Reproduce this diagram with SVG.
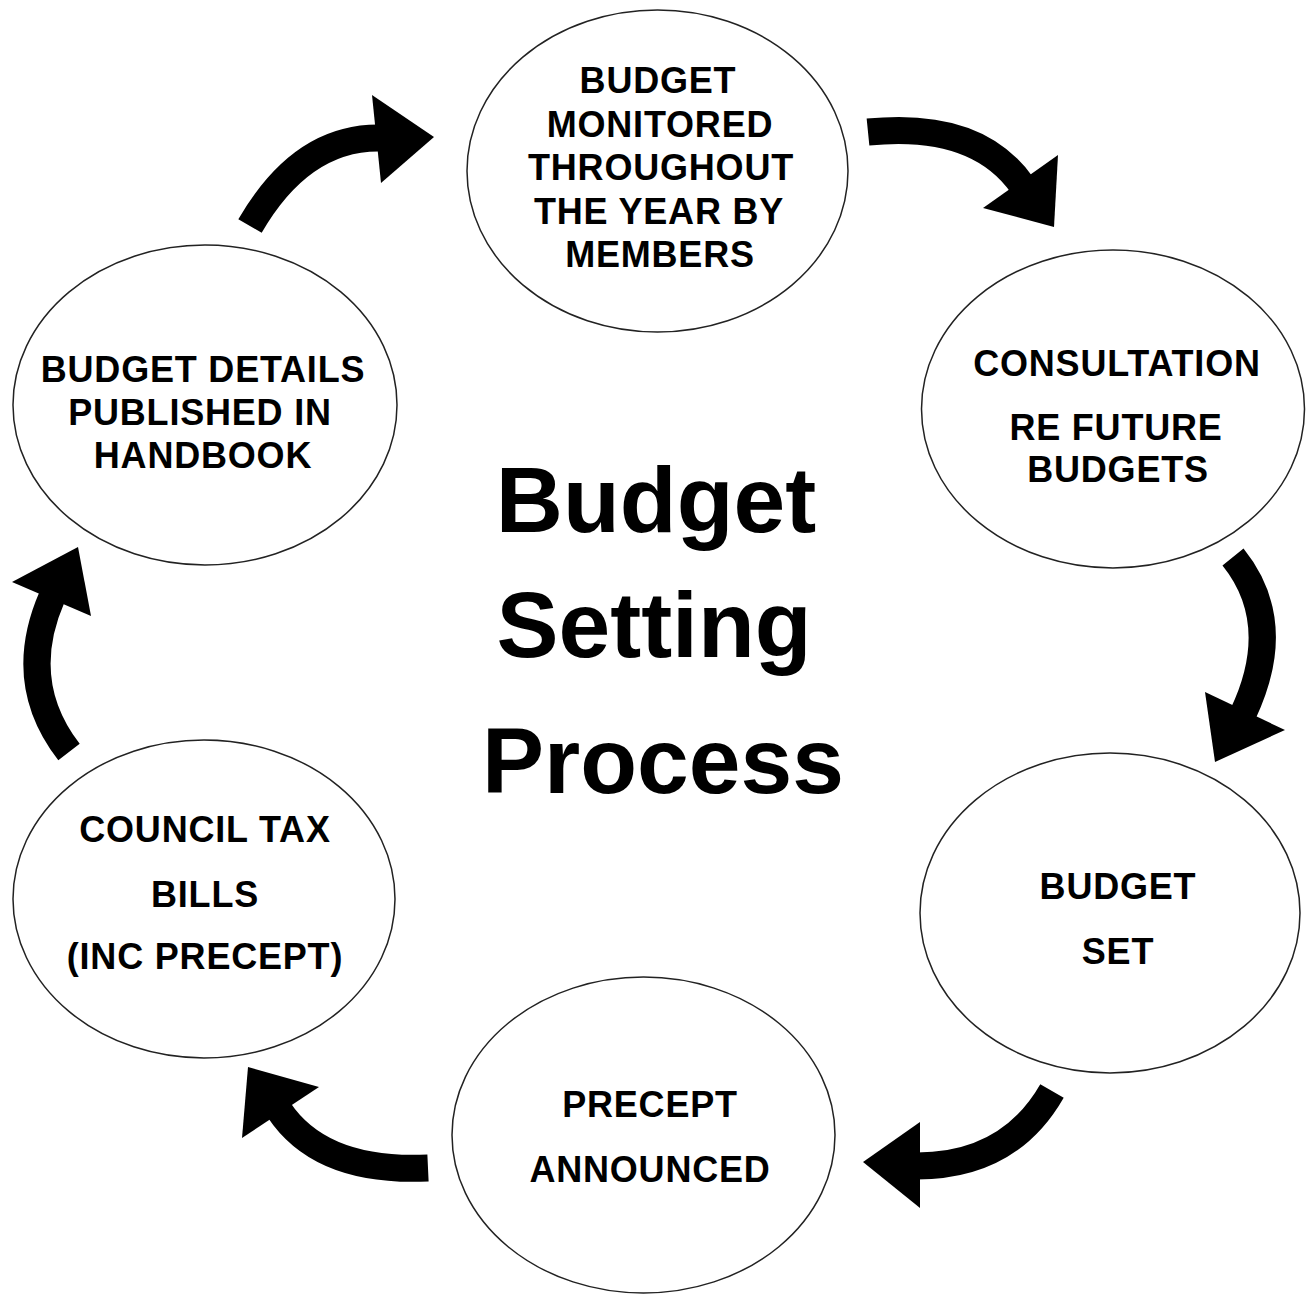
<svg xmlns="http://www.w3.org/2000/svg" width="1308" height="1294" viewBox="0 0 1308 1294">
<style>
.node ellipse{fill:#fff;stroke:#222;stroke-width:1.5}
.node text{font-family:"Liberation Sans",Arial,sans-serif;font-weight:bold;font-size:36px;letter-spacing:0.8px;fill:#000;text-anchor:middle}
.title text{font-family:"Liberation Sans",Arial,sans-serif;font-weight:bold;font-size:93px;fill:#000;text-anchor:middle}
.shaft{fill:none;stroke:#000;stroke-width:27;stroke-linecap:butt}
.head{fill:#000}
</style>
<rect width="1308" height="1294" fill="#fff"/>
<g id="connectors">
<path class="shaft" d="M250,226 Q301,138 378,138"/>
<polygon class="head" points="372,95 434,137 381,183"/>
<path class="shaft" d="M868,132 Q977,121 1022,185"/>
<polygon class="head" points="1058,155 1054,227 983,208"/>
<path class="shaft" d="M1233,557 Q1286,623 1243,714"/>
<polygon class="head" points="1205,692 1215,762 1285,730"/>
<path class="shaft" d="M1052,1091 Q1009,1166 917,1166"/>
<polygon class="head" points="920,1122 863,1162 920,1208"/>
<path class="shaft" d="M428,1168 Q321,1173 279,1110"/>
<polygon class="head" points="319,1087 248,1067 242,1138"/>
<path class="shaft" d="M69,752 Q15,682 52,597"/>
<polygon class="head" points="12,582 78,547 91,616"/>
</g>
<g id="node-monitored" class="node">
<ellipse cx="657.5" cy="171" rx="190.5" ry="161"/>
<text x="658" y="93">BUDGET</text>
<text x="660" y="137">MONITORED</text>
<text x="661" y="180">THROUGHOUT</text>
<text x="659" y="224">THE YEAR BY</text>
<text x="660" y="267">MEMBERS</text>
</g>
<g id="node-consultation" class="node">
<ellipse cx="1113" cy="409" rx="191.5" ry="159"/>
<text x="1117" y="376">CONSULTATION</text>
<text x="1116" y="440">RE FUTURE</text>
<text x="1118" y="482">BUDGETS</text>
</g>
<g id="node-budget-set" class="node">
<ellipse cx="1110" cy="913" rx="190" ry="160"/>
<text x="1118" y="899">BUDGET</text>
<text x="1118" y="964">SET</text>
</g>
<g id="node-precept" class="node">
<ellipse cx="643.5" cy="1135" rx="191.5" ry="158"/>
<text x="650" y="1117">PRECEPT</text>
<text x="650" y="1182">ANNOUNCED</text>
</g>
<g id="node-council-tax" class="node">
<ellipse cx="204" cy="899" rx="191" ry="159"/>
<text x="205" y="842">COUNCIL TAX</text>
<text x="205" y="907">BILLS</text>
<text x="205" y="969">(INC PRECEPT)</text>
</g>
<g id="node-handbook" class="node">
<ellipse cx="205" cy="405" rx="192" ry="160"/>
<text x="203" y="382">BUDGET DETAILS</text>
<text x="200" y="425">PUBLISHED IN</text>
<text x="203" y="468">HANDBOOK</text>
</g>
<g id="title" class="title">
<text x="656" y="532">Budget</text>
<text x="654" y="657">Setting</text>
<text x="663" y="793">Process</text>
</g>
</svg>
